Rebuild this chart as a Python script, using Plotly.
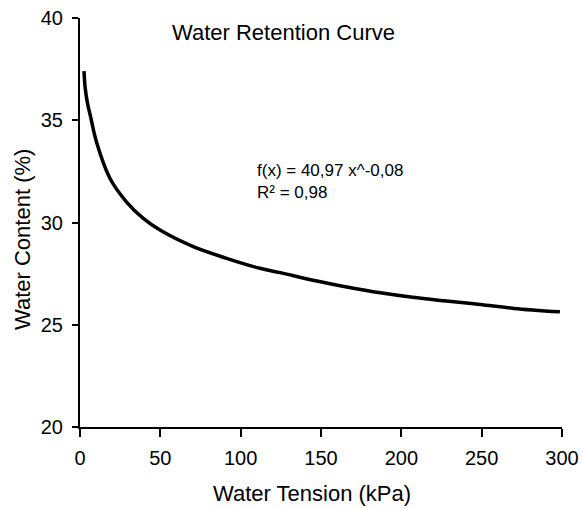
import plotly.graph_objects as go

# Data
tension_kpa = [2.5, 3.2, 4.5, 6.5, 10.4, 18.7, 29, 39.4, 49.8, 70.5, 91.2, 112,
               124.5, 145, 166, 187, 207, 228, 249, 270, 298.7]
water_content = [37.4, 36.6, 35.9, 35.2, 33.9, 32.15, 31.0, 30.2, 29.63, 28.82, 28.25, 27.76,
                 27.55, 27.18, 26.85, 26.56, 26.34, 26.16, 25.99, 25.80, 25.63]

x_ticks = [0, 50, 100, 150, 200, 250, 300]
y_ticks = [20, 25, 30, 35, 40]

title_text = "Water Retention Curve"
x_title = "Water Tension (kPa)"
y_title = "Water Content (%)"
eq_text = "f(x) = 40,97 x^-0,08<br>R² = 0,98"

FONT = "Liberation Sans, Arial, sans-serif"

fig = go.Figure()
fig.add_trace(go.Scatter(
    x=tension_kpa, y=water_content, mode="lines",
    line=dict(color="black", width=3.5, shape="spline", smoothing=1.0),
    showlegend=False, hoverinfo="skip"))

fig.update_layout(
    width=583, height=508,
    margin=dict(l=80, r=21, t=18, b=81, autoexpand=False),
    paper_bgcolor="white", plot_bgcolor="white",
    font=dict(family=FONT, color="black"),
    showlegend=False,
)

fig.update_xaxes(
    range=[0, 300], tickvals=x_ticks, ticks="outside", ticklen=8, tickwidth=2,
    tickcolor="black", showline=True, linecolor="black", linewidth=2,
    showgrid=False, zeroline=False, tickfont=dict(size=20, family=FONT),
    ticklabelstandoff=4, automargin=False,
)
fig.update_yaxes(
    range=[20, 40], tickvals=y_ticks, ticks="outside", ticklen=6, tickwidth=2,
    tickcolor="black", showline=True, linecolor="black", linewidth=2,
    showgrid=False, zeroline=False, tickfont=dict(size=20, family=FONT),
    ticklabelstandoff=5, automargin=False,
)

fig.add_annotation(text=title_text, xref="paper", yref="paper",
                   x=(283 - 80) / 482, y=(427 - 32) / 409, xanchor="center", yanchor="middle",
                   showarrow=False, font=dict(size=22, family=FONT))
fig.add_annotation(text=x_title, xref="paper", yref="paper",
                   x=(312 - 80) / 482, y=(427 - 493) / 409, xanchor="center", yanchor="middle",
                   showarrow=False, font=dict(size=22, family=FONT))
fig.add_annotation(text=y_title, xref="paper", yref="paper",
                   x=(23 - 80) / 482, y=(427 - 240) / 409, xanchor="center", yanchor="middle",
                   textangle=-90, showarrow=False, font=dict(size=22, family=FONT))
fig.add_annotation(text=eq_text, xref="paper", yref="paper",
                   x=(255 - 80) / 482, y=(427 - 181) / 409, xanchor="left", yanchor="middle",
                   align="left", showarrow=False, font=dict(size=17, family=FONT))

fig.write_html("out.html", config={"displayModeBar": False},
               post_script="document.body.style.margin='0';document.body.style.padding='0';")
